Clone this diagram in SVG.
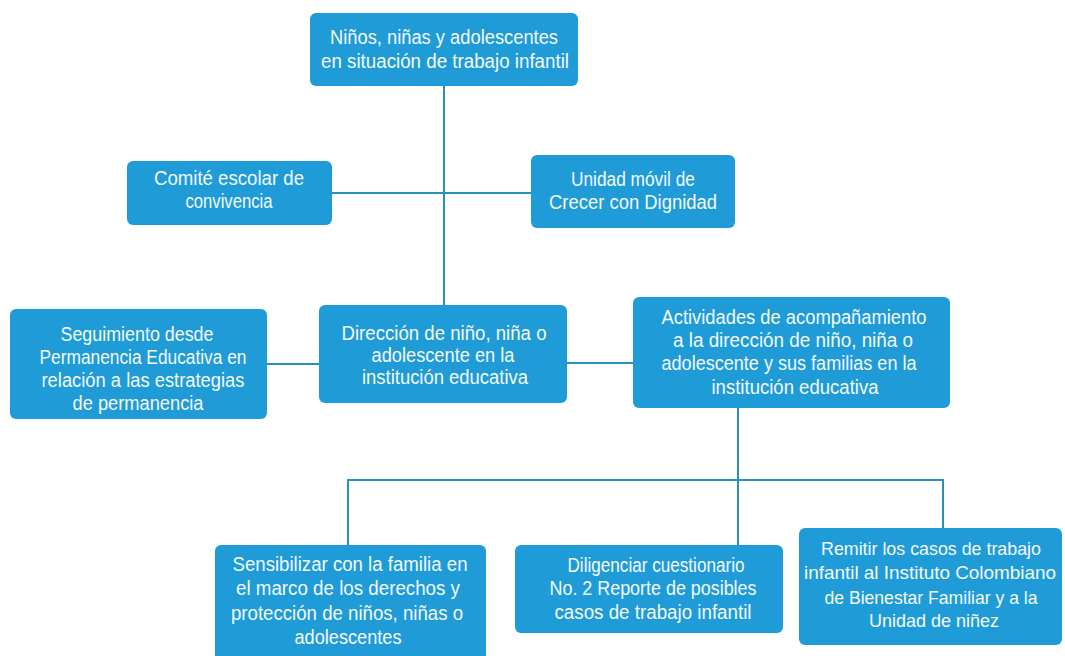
<svg xmlns="http://www.w3.org/2000/svg" width="1065" height="656" viewBox="0 0 1065 656">
<style>
.box{fill:#1f9cd8;}
.t{font-family:"Liberation Sans Narrow","Liberation Sans",Arial,sans-serif;font-size:20px;fill:#f4f9fc;text-anchor:middle;}
.s{font-size:18.5px;}
.c{stroke:#2a8fbd;stroke-width:2;fill:none;}
</style>
<rect width="1065" height="656" fill="#ffffff"/>
<g id="connectors">
<line class="c" x1="444" y1="86" x2="444" y2="305"/>
<line class="c" x1="332" y1="193" x2="531" y2="193"/>
<line class="c" x1="267" y1="364" x2="319" y2="364"/>
<line class="c" x1="567" y1="363" x2="633" y2="363"/>
<line class="c" x1="738" y1="408" x2="738" y2="545"/>
<line class="c" x1="347" y1="480" x2="944" y2="480"/>
<line class="c" x1="348" y1="480" x2="348" y2="545"/>
<line class="c" x1="943" y1="480" x2="943" y2="528"/>
</g>
<g id="n-top">
<rect class="box" x="310" y="13" width="268" height="73" rx="6"/>
<text class="t" x="444" y="44" textLength="228" lengthAdjust="spacingAndGlyphs">Niños, niñas y adolescentes</text>
<text class="t" x="445" y="68" textLength="248" lengthAdjust="spacingAndGlyphs">en situación de trabajo infantil</text>
</g>
<g id="n-comite">
<rect class="box" x="127" y="161" width="205" height="64" rx="6"/>
<text class="t" x="229" y="185" textLength="150" lengthAdjust="spacingAndGlyphs">Comité escolar de</text>
<text class="t" x="229" y="208" textLength="87" lengthAdjust="spacingAndGlyphs">convivencia</text>
</g>
<g id="n-unidad">
<rect class="box" x="531" y="155" width="204" height="73" rx="6"/>
<text class="t" x="633" y="186" textLength="124" lengthAdjust="spacingAndGlyphs">Unidad móvil de</text>
<text class="t" x="633" y="209" textLength="168" lengthAdjust="spacingAndGlyphs">Crecer con Dignidad</text>
</g>
<g id="n-seguimiento">
<rect class="box" x="10" y="309" width="257" height="110" rx="6"/>
<text class="t" x="137" y="341" textLength="153" lengthAdjust="spacingAndGlyphs">Seguimiento desde</text>
<text class="t" x="143" y="364" textLength="207" lengthAdjust="spacingAndGlyphs">Permanencia Educativa en</text>
<text class="t" x="143" y="387" textLength="203" lengthAdjust="spacingAndGlyphs">relación a las estrategias</text>
<text class="t" x="138" y="410" textLength="131" lengthAdjust="spacingAndGlyphs">de permanencia</text>
</g>
<g id="n-direccion">
<rect class="box" x="319" y="305" width="248" height="98" rx="6"/>
<text class="t" x="444" y="340" textLength="205" lengthAdjust="spacingAndGlyphs">Dirección de niño, niña o</text>
<text class="t" x="443" y="362" textLength="143" lengthAdjust="spacingAndGlyphs">adolescente en la</text>
<text class="t" x="445" y="384" textLength="166" lengthAdjust="spacingAndGlyphs">institución educativa</text>
</g>
<g id="n-actividades">
<rect class="box" x="633" y="297" width="317" height="111" rx="6"/>
<text class="t" x="794" y="324" textLength="265" lengthAdjust="spacingAndGlyphs">Actividades de acompañamiento</text>
<text class="t" x="793" y="347" textLength="240" lengthAdjust="spacingAndGlyphs">a la dirección de niño, niña o</text>
<text class="t" x="789" y="370" textLength="255" lengthAdjust="spacingAndGlyphs">adolescente y sus familias en la</text>
<text class="t" x="795" y="394" textLength="167" lengthAdjust="spacingAndGlyphs">institución educativa</text>
</g>
<g id="n-sensibilizar">
<rect class="box" x="215" y="545" width="271" height="125" rx="6"/>
<text class="t" x="350" y="571" textLength="235" lengthAdjust="spacingAndGlyphs">Sensibilizar con la familia en</text>
<text class="t" x="348" y="595" textLength="224" lengthAdjust="spacingAndGlyphs">el marco de los derechos y</text>
<text class="t" x="347" y="620" textLength="232" lengthAdjust="spacingAndGlyphs">protección de niños, niñas o</text>
<text class="t" x="348" y="644" textLength="107" lengthAdjust="spacingAndGlyphs">adolescentes</text>
</g>
<g id="n-diligenciar">
<rect class="box" x="515" y="545" width="268" height="88" rx="6"/>
<text class="t" x="656" y="572" textLength="177" lengthAdjust="spacingAndGlyphs">Diligenciar cuestionario</text>
<text class="t" x="653" y="595" textLength="207" lengthAdjust="spacingAndGlyphs">No. 2 Reporte de posibles</text>
<text class="t" x="653" y="619" textLength="197" lengthAdjust="spacingAndGlyphs">casos de trabajo infantil</text>
</g>
<g id="n-remitir">
<rect class="box" x="799" y="528" width="263" height="117" rx="6"/>
<text class="t s" x="931" y="555" textLength="220" lengthAdjust="spacingAndGlyphs">Remitir los casos de trabajo</text>
<text class="t s" x="930" y="579" textLength="252" lengthAdjust="spacingAndGlyphs">infantil al Instituto Colombiano</text>
<text class="t s" x="931" y="604" textLength="213" lengthAdjust="spacingAndGlyphs">de Bienestar Familiar y a la</text>
<text class="t s" x="934" y="627" textLength="130" lengthAdjust="spacingAndGlyphs">Unidad de niñez</text>
</g>
</svg>
